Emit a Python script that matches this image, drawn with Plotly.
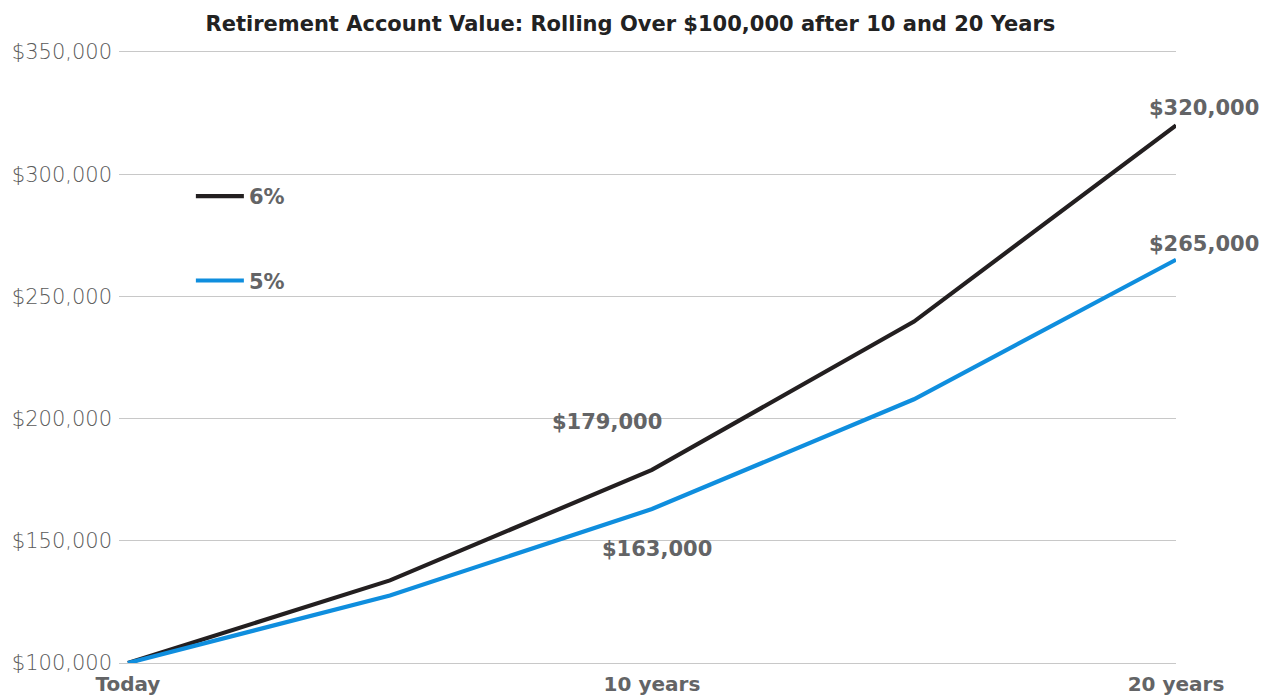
import plotly.graph_objects as go

years = [0, 5, 10, 15, 20]
rate6_values = [100000, 133800, 179000, 239700, 320000]
rate5_values = [100000, 127600, 163000, 207900, 265000]
series_names = ["6%", "5%"]
x_tick_vals = [0, 10, 20]
x_tick_text = ["Today", "10 years", "20 years"]
y_tick_vals = [100000, 150000, 200000, 250000, 300000, 350000]
y_tick_text = ["$100,000", "$150,000", "$200,000", "$250,000", "$300,000", "$350,000"]
title_text = "Retirement Account Value: Rolling Over $100,000 after 10 and 20 Years"

BLACK = "#231f20"
BLUE = "#0f8ede"
GRAY_TXT = "#636466"
GRID = "#c8c8c8"
FONT = "DejaVu Sans"

fig = go.Figure()
fig.add_trace(go.Scatter(x=years, y=rate6_values, mode="lines", name=series_names[0],
                         legendgroup="a", line=dict(color=BLACK, width=4.2)))
fig.add_trace(go.Scatter(x=years, y=rate5_values, mode="lines", name=series_names[1],
                         legendgroup="b", line=dict(color=BLUE, width=4.2)))

lbl_font = dict(family=FONT, size=21, color=GRAY_TXT, weight="bold")
fig.add_annotation(x=years[4], y=rate6_values[4], text=f"${rate6_values[4]:,}", showarrow=False,
                   xanchor="center", yanchor="bottom", xshift=28, yshift=3, font=lbl_font)
fig.add_annotation(x=years[4], y=rate5_values[4], text=f"${rate5_values[4]:,}", showarrow=False,
                   xanchor="center", yanchor="bottom", xshift=28, yshift=2, font=lbl_font)
fig.add_annotation(x=years[2], y=rate6_values[2], text=f"${rate6_values[2]:,}", showarrow=False,
                   xanchor="center", yanchor="bottom", xshift=-45, yshift=34, font=lbl_font)
fig.add_annotation(x=years[2], y=rate5_values[2], text=f"${rate5_values[2]:,}", showarrow=False,
                   xanchor="center", yanchor="top", xshift=5, yshift=-26, font=lbl_font)

fig.update_layout(
    width=1271, height=696,
    margin=dict(l=119, r=95, t=52, b=33),
    paper_bgcolor="white", plot_bgcolor="white",
    title=dict(text=title_text, x=0.496, xanchor="center", y=1 - 24 / 696, yanchor="middle",
               yref="container", font=dict(family=FONT, size=21, color="#222222", weight="bold")),
    legend=dict(x=0.068, y=0.797, xanchor="left", yanchor="top", bgcolor="rgba(0,0,0,0)",
                tracegroupgap=54, itemwidth=48,
                font=dict(family=FONT, size=21, color=GRAY_TXT, weight="bold")),
    showlegend=True,
)
fig.update_xaxes(range=[-0.17, 20.0], tickvals=x_tick_vals, ticktext=x_tick_text,
                 showgrid=False, zeroline=False, showline=True, mirror=True,
                 linecolor=GRID, linewidth=1, ticks="", automargin=False,
                 ticklabelstandoff=3,
                 tickfont=dict(family=FONT, size=20, color=GRAY_TXT, weight="bold"))
fig.update_yaxes(range=[100000, 350000], tickvals=y_tick_vals, ticktext=y_tick_text,
                 showgrid=True, gridcolor=GRID, gridwidth=1, zeroline=False, ticks="",
                 showline=False, ticklabelstandoff=6, automargin=False,
                 tickfont=dict(family=FONT, size=21, color="#5a5a5a", weight=200))

fig.write_html("out.html", config={"displayModeBar": False},
               post_script="document.body.style.margin='0';")
